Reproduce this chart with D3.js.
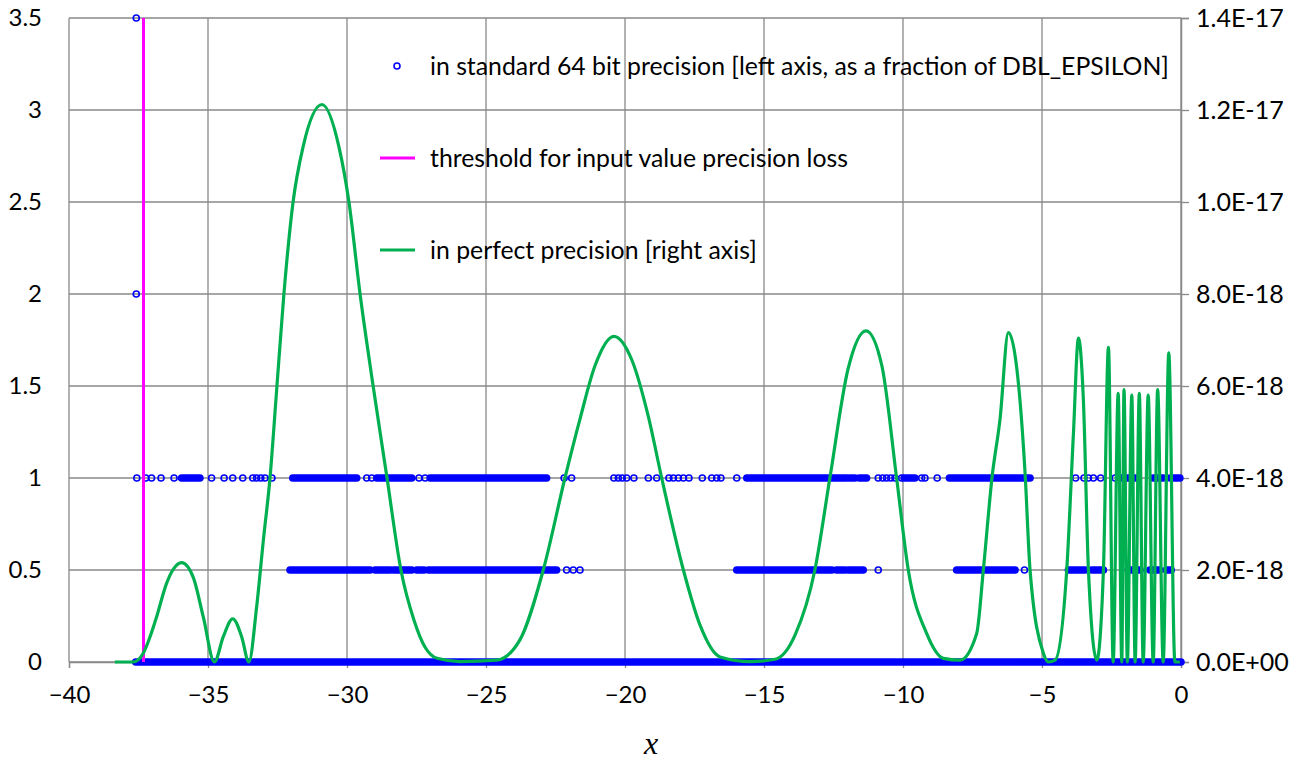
<!DOCTYPE html>
<html>
<head>
<meta charset="utf-8">
<script src="https://cdn.jsdelivr.net/npm/d3@7"></script>
<style>
  body { margin: 0; background: #fff; }
  svg { display: block; }
  .tick-label { font-family: Lato, "Open Sans", sans-serif; fill: #000; }
  .legend-text { font-family: Lato, "Open Sans", sans-serif; fill: #000; }
</style>
</head>
<body>
<svg id="chart" width="1301" height="760"></svg>
<script>
// x positions
const xTicks = [-40, -35, -30, -25, -20, -15, -10, -5, 0];
const leftTicks = [0, 0.5, 1, 1.5, 2, 2.5, 3, 3.5];
const rightTicks = [0, 2e-18, 4e-18, 6e-18, 8e-18, 1e-17, 1.2e-17, 1.4e-17];
const rightTickLabels = ['0.0E+00', '2.0E-18', '4.0E-18', '6.0E-18', '8.0E-18', '1.0E-17', '1.2E-17', '1.4E-17'];

const thresholdX = -37.32;

// perfect precision error, right axis, in units of 1e-18
const greenX = [-38.35, -37.69, -37.33, -37.09, -36.85, -36.49, -36.22, -35.95, -35.53, -35.17, -34.77,
  -34.45, -34.11, -33.79, -33.53, -33.25, -33.01, -32.77, -32.52, -32.27, -31.94, -31.58, -30.90,
  -30.29, -29.93, -29.53, -29.06, -28.56, -28.06, -27.59, -27.19, -26.76, -25.94, -24.62, -23.78,
  -22.94, -22.16, -21.62, -21.08, -20.40, -19.75, -19.17, -18.68, -17.90, -17.30, -16.58, -15.50,
  -14.60, -13.88, -13.17, -12.63, -11.98, -11.33, -10.76, -10.23, -9.81, -9.15, -8.55, -7.95,
  -7.35, -7.11, -6.80, -6.51, -6.21, -5.91, -5.61, -5.43, -4.95, -4.77, -4.53, -4.11, -3.87,
  -3.69, -3.51, -3.33, -3.03, -2.79, -2.61, -2.44, -2.26, -2.13, -2.05, -1.93, -1.77, -1.65,
  -1.50, -1.36, -1.18, -1.00, -0.84, -0.64, -0.44, -0.22, -0.04];
const greenY = [0, 0, 0.19, 0.54, 0.98, 1.71, 2.04, 2.16, 1.84, 0.98, 0,
  0.55, 0.94, 0.55, 0, 1.2, 2.64, 4.0, 6.0, 8.0, 10.0, 11.2, 12.12,
  11.2, 10.0, 8.0, 6.0, 4.0, 2.0, 0.91, 0.32, 0.08, 0.01, 0.04, 0.48,
  2.0, 4.0, 5.28, 6.44, 7.08, 6.56, 5.36, 4.0, 2.0, 0.8, 0.11, 0.01,
  0.06, 0.59, 2.0, 4.0, 6.36, 7.2, 6.44, 4.0, 2.0, 0.62, 0.08, 0.04,
  0.62, 2.0, 4.0, 5.28, 7.16, 6.4, 4.12, 2.0, 0.19, 0, 0.04, 2.0, 4.96,
  7.04, 5.68, 2.0, 0.04, 2.0, 6.84, 0, 5.84, 0, 5.92, 0, 5.8, 0,
  5.84, 0, 5.8, 0, 5.92, 0, 6.72, 0, 0];

// standard 64 bit precision error, left axis (fraction of DBL_EPSILON)
// each entry is a run of markers [from, to]; from == to is a single marker
const blueLevels = [0, 0.5, 1];
const blueRunsAt0 = [[-37.6, 0]];
const blueRunsAtHalf = [[-32.05, -29.17], [-28.99, -28.45], [-28.33, -27.67], [-27.49, -27.23],
  [-27.07, -22.46], [-22.10, -22.10], [-21.86, -21.86], [-21.62, -21.62],
  [-15.98, -13.17], [-13.05, -12.56], [-12.39, -12.09], [-11.97, -11.43], [-10.89, -10.89],
  [-8.07, -7.17], [-7.05, -5.97], [-5.63, -5.63], [-4.05, -3.45], [-3.21, -2.79],
  [-1.90, -1.47], [-1.12, -0.77], [-0.53, -0.35]];
const blueRunsAt1 = [[-37.56, -37.56], [-37.24, -37.24], [-37.03, -37.03], [-36.69, -36.69],
  [-36.22, -36.22], [-35.95, -35.29], [-34.87, -34.87], [-34.42, -34.42], [-34.11, -34.11],
  [-33.75, -33.75], [-33.39, -33.39], [-33.25, -33.25], [-33.10, -33.10], [-32.95, -32.95],
  [-32.70, -32.70], [-31.95, -29.65], [-29.29, -29.29], [-29.11, -29.11], [-28.93, -27.67],
  [-27.41, -27.41], [-27.19, -27.19], [-27.01, -22.82], [-22.19, -22.19], [-21.92, -21.92],
  [-20.40, -20.40], [-20.24, -20.24], [-20.10, -20.10], [-19.94, -19.94], [-19.68, -19.68],
  [-19.16, -19.16], [-18.86, -18.86], [-18.42, -18.42], [-18.26, -18.26], [-18.08, -18.08],
  [-17.90, -17.90], [-17.70, -17.70], [-17.22, -17.22], [-16.88, -16.88], [-16.70, -16.70],
  [-16.55, -16.55], [-15.98, -15.98], [-15.62, -12.02], [-11.91, -11.73], [-11.57, -11.31],
  [-10.89, -10.89], [-10.73, -10.73], [-10.59, -10.59], [-10.44, -10.44], [-10.29, -10.29],
  [-10.05, -10.05], [-9.96, -9.57], [-9.33, -9.33], [-9.21, -9.21], [-8.77, -8.77],
  [-8.33, -5.43], [-3.79, -3.79], [-3.49, -3.49], [-3.33, -3.33], [-3.15, -3.15],
  [-2.89, -2.89], [-2.37, -2.37], [-2.13, -1.65], [-1.00, -0.64], [-0.39, -0.04]];
const blueOutliersX = [-37.58, -37.58];
const blueOutliersY = [3.5, 2];

const legendLabels = [
  'in standard 64 bit precision [left axis, as a fraction of DBL_EPSILON]',
  'threshold for input value precision loss',
  'in perfect precision [right axis]'
];

const BLUE = '#0000FF';
const MAGENTA = '#FF00FF';
const GREEN = '#00B050';
const GRID = '#898989';
const MARKER_R = 3;

const margin = { left: 69, right: 120, top: 18, bottom: 98 };
const svg = d3.select('#chart');
const width = +svg.attr('width');
const height = +svg.attr('height');

const x = d3.scaleLinear().domain([-40, 0]).range([margin.left, width - margin.right]);
const yLeft = d3.scaleLinear().domain([0, 3.5]).range([height - margin.bottom, margin.top]);
const yRight = d3.scaleLinear().domain([0, 1.4e-17]).range([height - margin.bottom, margin.top]);

// grid
const grid = svg.append('g').attr('class', 'grid');
grid.selectAll('line.h')
    .data(leftTicks)
    .join('line')
    .attr('class', 'h')
    .attr('x1', x(-40)).attr('x2', x(0))
    .attr('y1', d => yLeft(d)).attr('y2', d => yLeft(d))
    .attr('stroke', GRID).attr('stroke-width', 1.3);
grid.selectAll('line.v')
    .data(xTicks)
    .join('line')
    .attr('class', 'v')
    .attr('x1', d => x(d)).attr('x2', d => x(d))
    .attr('y1', yLeft(0)).attr('y2', yLeft(3.5))
    .attr('stroke', GRID).attr('stroke-width', 1.3);

// bottom axis
const xAxis = svg.append('g')
    .attr('transform', `translate(0,${yLeft(0)})`)
    .call(d3.axisBottom(x).tickValues(xTicks).tickSize(6).tickPadding(18).tickFormat(d3.format('d')));
xAxis.select('.domain').attr('stroke', GRID).attr('stroke-width', 1.3);
xAxis.selectAll('.tick line').attr('stroke', GRID).attr('stroke-width', 1.3);
xAxis.selectAll('.tick text').attr('class', 'tick-label').style('font-size', '24px');

// left axis (labels only)
const leftAxis = svg.append('g')
    .attr('transform', `translate(${margin.left},0)`)
    .call(d3.axisLeft(yLeft).tickValues(leftTicks).tickSize(0).tickPadding(27).tickFormat(d => String(d)));
leftAxis.select('.domain').remove();
leftAxis.selectAll('.tick text').attr('class', 'tick-label').style('font-size', '24px');

// right axis
const rightAxis = svg.append('g')
    .attr('transform', `translate(${x(0)},0)`)
    .call(d3.axisRight(yRight).tickValues(rightTicks).tickSize(8).tickPadding(7)
        .tickFormat((d, i) => rightTickLabels[i]));
rightAxis.select('.domain').attr('stroke', GRID).attr('stroke-width', 1.5);
rightAxis.selectAll('.tick line').attr('stroke', GRID).attr('stroke-width', 1.3);
rightAxis.selectAll('.tick text').attr('class', 'tick-label').style('font-size', '25px');

// blue markers
const blue = svg.append('g').attr('class', 'blue');
const blueRows = [blueRunsAt0, blueRunsAtHalf, blueRunsAt1];
blueRows.forEach((runs, i) => {
    const yv = yLeft(blueLevels[i]);
    blue.selectAll(null)
        .data(runs.filter(r => r[0] === r[1]))
        .join('circle')
        .attr('cx', d => x(d[0]))
        .attr('cy', yv)
        .attr('r', MARKER_R)
        .attr('fill', 'none')
        .attr('stroke', BLUE)
        .attr('stroke-width', 1.6);
    blue.selectAll(null)
        .data(runs.filter(r => r[0] !== r[1]))
        .join('line')
        .attr('x1', d => x(d[0]))
        .attr('x2', d => x(d[1]))
        .attr('y1', yv).attr('y2', yv)
        .attr('stroke', BLUE)
        .attr('stroke-width', 2 * MARKER_R + 1.6)
        .attr('stroke-linecap', 'round');
});
blue.selectAll(null)
    .data(blueOutliersX)
    .join('circle')
    .attr('cx', d => x(d))
    .attr('cy', (d, i) => yLeft(blueOutliersY[i]))
    .attr('r', MARKER_R)
    .attr('fill', 'none')
    .attr('stroke', BLUE)
    .attr('stroke-width', 1.6);

// threshold line
svg.append('line')
    .attr('x1', x(thresholdX)).attr('x2', x(thresholdX))
    .attr('y1', yLeft(0)).attr('y2', yLeft(3.5))
    .attr('stroke', MAGENTA).attr('stroke-width', 3);

// perfect precision curve
const greenData = greenX.map((v, i) => [v, greenY[i] * 1e-18]);
const line = d3.line()
    .x(d => x(d[0]))
    .y(d => yRight(d[1]))
    .curve(d3.curveMonotoneX);
svg.append('path')
    .datum(greenData)
    .attr('d', line)
    .attr('fill', 'none')
    .attr('stroke', GREEN)
    .attr('stroke-width', 3.2)
    .attr('stroke-linejoin', 'round');

// legend
const legend = svg.append('g').attr('class', 'legend');
const legendY = [66, 158, 250];
legend.append('circle')
    .attr('cx', 397).attr('cy', legendY[0]).attr('r', MARKER_R)
    .attr('fill', 'none').attr('stroke', BLUE).attr('stroke-width', 1.6);
legend.append('line')
    .attr('x1', 380).attr('x2', 415).attr('y1', legendY[1]).attr('y2', legendY[1])
    .attr('stroke', MAGENTA).attr('stroke-width', 3);
legend.append('line')
    .attr('x1', 380).attr('x2', 415).attr('y1', legendY[2]).attr('y2', legendY[2])
    .attr('stroke', GREEN).attr('stroke-width', 3);
legend.selectAll('text')
    .data(legendLabels)
    .join('text')
    .attr('class', 'legend-text')
    .attr('x', 430)
    .attr('y', (d, i) => legendY[i])
    .attr('dy', '0.35em')
    .style('font-size', '24.8px')
    .text(d => d);

// x axis title
svg.append('text')
    .attr('x', 651)
    .attr('y', 754)
    .attr('text-anchor', 'middle')
    .style('font-family', '"Liberation Serif", serif')
    .style('font-style', 'italic')
    .style('font-size', '32px')
    .text('x');
</script>
</body>
</html>
